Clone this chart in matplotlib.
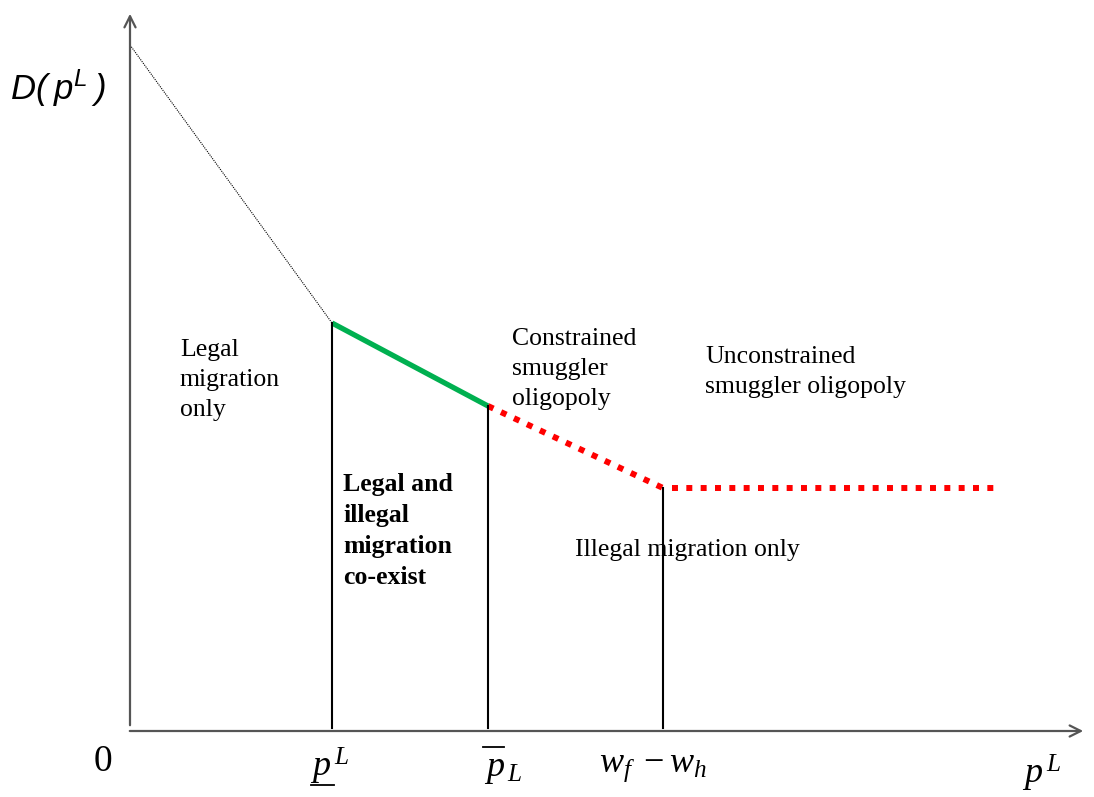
import matplotlib
matplotlib.use("Agg")
import matplotlib.pyplot as plt

# fonts: Times-like for most text, Arial-like italic for the D(p^L) label
plt.rcParams['font.family'] = ['Liberation Serif', 'DejaVu Serif']
plt.rcParams['mathtext.fontset'] = 'custom'
plt.rcParams['mathtext.rm'] = 'Liberation Serif'
plt.rcParams['mathtext.it'] = 'Liberation Serif:italic'
plt.rcParams['mathtext.bf'] = 'Liberation Serif:bold'
plt.rcParams['mathtext.sf'] = 'Liberation Sans:italic'

# demand schedule D(p^L) (units, origin at 0)
p_knots = [0, 202, 358, 533]          # 0, p_L (under), p_L (bar), w_f - w_h
d_knots = [684, 406, 323, 241]
p_flat = [542, 871]                   # flat part beyond w_f - w_h
d_flat = [241, 241]

tick_pos = [-27, 200, 373, 523, 912]
tick_txt = ['0', r'$p^{\,L}$', r'$p_{\,L}$', r'$w_{f}\;-w_{h}$', r'$p^{\,L}$']

regions = ['Legal\nmigration\nonly', 'Constrained\nsmuggler\noligopoly',
           'Unconstrained\nsmuggler oligopoly', 'Illegal migration only']
region_x = [50, 382, 575, 445]
region_y = [349, 360, 357, 179]

fig = plt.figure(figsize=(10.94, 7.97), dpi=100)
ax = fig.add_axes([0, 0, 1, 1])
ax.set_xlim(-130, 964)
ax.set_ylim(-68, 729)
ax.axis('off')

axis_col = '#555555'
#axes with open arrow heads
ax.annotate('', xy=(0, 718), xytext=(0, 1),
            arrowprops=dict(arrowstyle='->', color=axis_col, lw=1.6, mutation_scale=20))
ax.annotate('', xy=(956, -2), xytext=(-3, -2),
            arrowprops=dict(arrowstyle='->', color=axis_col, lw=1.6, mutation_scale=20))

# thin dotted part, green legal part, red dotted smuggler part
ax.plot(p_knots[:2], d_knots[:2], color='black', lw=0.8, ls=(0, (1, 1)))
ax.plot(p_knots[1:3], d_knots[1:3], color='#00B050', lw=3.8, solid_capstyle='butt')
ax.plot(p_knots[2:4], d_knots[2:4], color='#FF0000', lw=4.3, ls=(0, (1, 1.4)))
ax.plot(p_flat, d_flat, color='#FF0000', lw=4.3, ls=(0, (1, 1.4)))

# vertical lines down to the p axis
for p, d in zip(p_knots[1:], d_knots[1:]):
    ax.plot([p, p], [d, 1], color='black', lw=1.5)

# axis labels
tick_y = [-33, -37, -41, -38, -44]
for x, y, t in zip(tick_pos, tick_y, tick_txt):
    fs = 27 if t == '0' else 26
    ax.text(x, y, t, fontsize=fs, ha='center', va='center')
ax.plot([181, 204], [-56, -56], color='black', lw=1.3)   # underline of p
ax.plot([353, 374], [-18, -18], color='black', lw=1.3)   # bar over p
ax.text(-120, 641, r'$\mathsf{D(\;p^{L}\;)}$', fontsize=25, ha='left', va='center')

# region labels
for t, x, y in zip(regions, region_x, region_y):
    ax.text(x, y, t, fontsize=18.5, ha='left', va='center', linespacing=1.45)
ax.text(213, 198, 'Legal and\nillegal\nmigration\nco-exist', fontsize=18.5,
        fontweight='bold', ha='left', va='center', linespacing=1.45)

fig.savefig('out.png', dpi=100)
